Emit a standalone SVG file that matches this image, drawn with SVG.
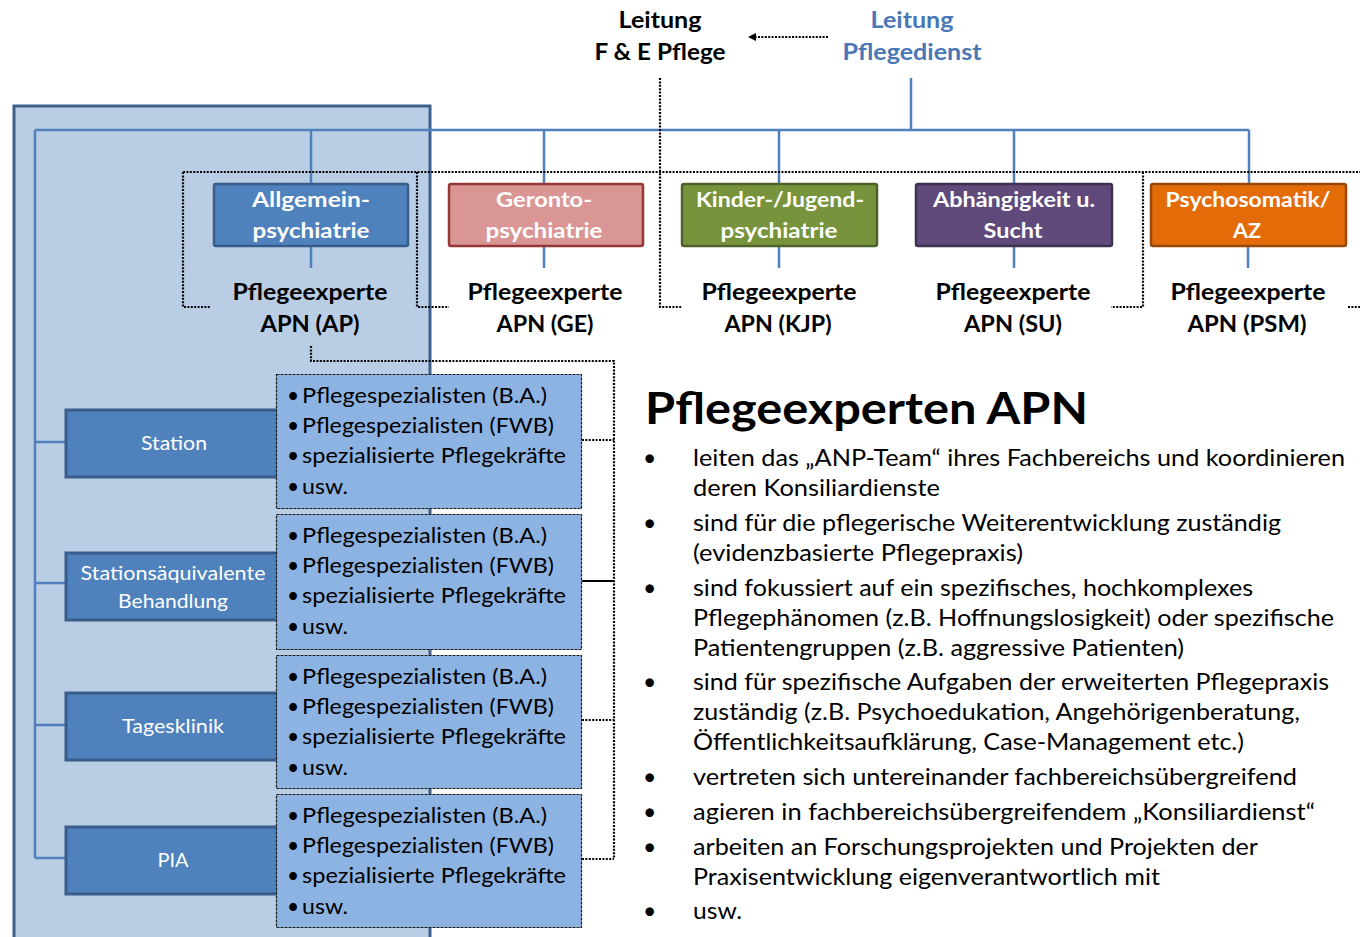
<svg xmlns="http://www.w3.org/2000/svg" width="1360" height="937" viewBox="0 0 1360 937">
<defs>
<style>
.t{font-family:Lato,'Liberation Sans',sans-serif;}
.b{font-weight:700;}
.w{fill:#ffffff;}
.k{fill:#000000;}
.c{text-anchor:middle;}
.bl{stroke:#4f81bd;stroke-width:2.5;fill:none;}
.dt{stroke:#000;stroke-width:2.2;stroke-dasharray:2 1.4;fill:none;}
.cat{fill:#4f81bd;stroke:#385d8a;stroke-width:3;}
.lst{fill:#8db3e2;stroke:#1a1a1a;stroke-width:1.2;stroke-dasharray:3 1;}
.f20{font-size:20px;}
.f21{font-size:21px;}
.f22{font-size:22px;}
.f23{font-size:23px;}
</style>
<marker id="arr" markerWidth="8" markerHeight="8" refX="0" refY="4" orient="auto" markerUnits="userSpaceOnUse">
<path d="M0,0 L8,4 L0,8 z" fill="#000"/>
</marker>
</defs>
<rect width="1360" height="937" fill="#ffffff"/>

<g id="panel">
<rect x="14" y="106" width="416" height="840" fill="#b9cde5" stroke="#3d5f8c" stroke-width="3"/>
</g>

<g id="connectors">
<path class="bl" d="M911,78 V130 M35,130 H1249 M311,130 V183 M544,130 V183 M779,130 V183 M1014,130 V183 M1249,130 V183"/>
<path class="bl" d="M311,247 V268 M544,247 V268 M779,247 V268 M1014,247 V268 M1248,247 V268"/>
<path class="bl" d="M35,130 V858 M35,442 H66 M35,583 H66 M35,725 H66 M35,858 H66"/>
<path class="dt" d="M183,172 H1360 M183,172 V307 H211 M417,172 V307 H449 M660,78 V307 H682 M1143,172 V307 H1111 M1348,307 H1360"/>
<path class="dt" d="M311,346 V361 H614 V859 M582,440 H614 M582,720 H614 M582,859 H614"/>
<path d="M582,581 H614" stroke="#000" stroke-width="2" fill="none"/>
<path class="dt" d="M828,37 H756" marker-end="url(#arr)"/>
</g>

<g id="leitung-fe">
<text class="t b k c f22" x="660" y="28" textLength="83" lengthAdjust="spacingAndGlyphs">Leitung</text>
<text class="t b k c f22" x="660" y="60" textLength="131" lengthAdjust="spacingAndGlyphs">F &amp; E Pflege</text>
</g>
<g id="leitung-pd">
<text class="t b c f22" fill="#4a78b4" x="912" y="28" textLength="83" lengthAdjust="spacingAndGlyphs">Leitung</text>
<text class="t b c f22" fill="#4a78b4" x="912" y="60" textLength="139" lengthAdjust="spacingAndGlyphs">Pflegedienst</text>
</g>

<g id="box-ap">
<rect x="214" y="184" width="194" height="62" rx="2" fill="#4f81bd" stroke="#385d8a" stroke-width="2.5"/>
<text class="t b w c f21" x="311" y="207" textLength="118" lengthAdjust="spacingAndGlyphs">Allgemein-</text>
<text class="t b w c f21" x="311" y="238" textLength="117" lengthAdjust="spacingAndGlyphs">psychiatrie</text>
</g>
<g id="box-ge">
<rect x="449" y="184" width="194" height="62" rx="2" fill="#d99694" stroke="#953735" stroke-width="2.5"/>
<text class="t b w c f21" x="544" y="207" textLength="96" lengthAdjust="spacingAndGlyphs">Geronto-</text>
<text class="t b w c f21" x="544" y="238" textLength="117" lengthAdjust="spacingAndGlyphs">psychiatrie</text>
</g>
<g id="box-kjp">
<rect x="682" y="184" width="195" height="62" rx="2" fill="#77933c" stroke="#4f6228" stroke-width="2.5"/>
<text class="t b w c f21" x="780" y="207" textLength="168" lengthAdjust="spacingAndGlyphs">Kinder-/Jugend-</text>
<text class="t b w c f21" x="779" y="238" textLength="117" lengthAdjust="spacingAndGlyphs">psychiatrie</text>
</g>
<g id="box-su">
<rect x="916" y="184" width="196" height="62" rx="2" fill="#604a7b" stroke="#3f3151" stroke-width="2.5"/>
<text class="t b w c f21" x="1014" y="207" textLength="162" lengthAdjust="spacingAndGlyphs">Abhängigkeit u.</text>
<text class="t b w c f21" x="1013" y="238" textLength="59" lengthAdjust="spacingAndGlyphs">Sucht</text>
</g>
<g id="box-psm">
<rect x="1151" y="184" width="195" height="62" rx="2" fill="#e36c09" stroke="#984807" stroke-width="2.5"/>
<text class="t b w c f21" x="1248" y="207" textLength="165" lengthAdjust="spacingAndGlyphs">Psychosomatik/</text>
<text class="t b w c f21" x="1247" y="238" textLength="28" lengthAdjust="spacingAndGlyphs">AZ</text>
</g>

<g id="apn-ap">
<text class="t b k c f22" x="310" y="300" textLength="155" lengthAdjust="spacingAndGlyphs">Pflegeexperte</text>
<text class="t b k c f22" x="310" y="332" textLength="99" lengthAdjust="spacingAndGlyphs">APN (AP)</text>
</g>
<g id="apn-ge">
<text class="t b k c f22" x="545" y="300" textLength="155" lengthAdjust="spacingAndGlyphs">Pflegeexperte</text>
<text class="t b k c f22" x="545" y="332" textLength="97" lengthAdjust="spacingAndGlyphs">APN (GE)</text>
</g>
<g id="apn-kjp">
<text class="t b k c f22" x="779" y="300" textLength="155" lengthAdjust="spacingAndGlyphs">Pflegeexperte</text>
<text class="t b k c f22" x="778" y="332" textLength="107" lengthAdjust="spacingAndGlyphs">APN (KJP)</text>
</g>
<g id="apn-su">
<text class="t b k c f22" x="1013" y="300" textLength="155" lengthAdjust="spacingAndGlyphs">Pflegeexperte</text>
<text class="t b k c f22" x="1013" y="332" textLength="98" lengthAdjust="spacingAndGlyphs">APN (SU)</text>
</g>
<g id="apn-psm">
<text class="t b k c f22" x="1248" y="300" textLength="155" lengthAdjust="spacingAndGlyphs">Pflegeexperte</text>
<text class="t b k c f22" x="1247" y="332" textLength="119" lengthAdjust="spacingAndGlyphs">APN (PSM)</text>
</g>

<g id="cat-station">
<rect class="cat" x="66" y="410" width="240" height="67"/>
<text class="t w c f20" x="174" y="450" textLength="66" lengthAdjust="spacingAndGlyphs">Station</text>
</g>
<g id="cat-stationsaequivalent">
<rect class="cat" x="66" y="553" width="240" height="67"/>
<text class="t w c f20" x="173" y="580" textLength="185" lengthAdjust="spacingAndGlyphs">Stationsäquivalente</text>
<text class="t w c f20" x="173" y="608" textLength="110" lengthAdjust="spacingAndGlyphs">Behandlung</text>
</g>
<g id="cat-tagesklinik">
<rect class="cat" x="66" y="693" width="240" height="67"/>
<text class="t w c f20" x="173" y="733" textLength="102" lengthAdjust="spacingAndGlyphs">Tagesklinik</text>
</g>
<g id="cat-pia">
<rect class="cat" x="66" y="827" width="240" height="67"/>
<text class="t w c f20" x="173" y="867" textLength="31" lengthAdjust="spacingAndGlyphs">PIA</text>
</g>

<g id="list-1">
<rect class="lst" x="276.5" y="374.5" width="305" height="134"/>
<text class="t k f21" x="287" y="403">•</text><text class="t k f21" x="302" y="403" textLength="245" lengthAdjust="spacingAndGlyphs">Pflegespezialisten (B.A.)</text>
<text class="t k f21" x="287" y="433">•</text><text class="t k f21" x="302" y="433" textLength="252" lengthAdjust="spacingAndGlyphs">Pflegespezialisten (FWB)</text>
<text class="t k f21" x="287" y="463">•</text><text class="t k f21" x="302" y="463" textLength="264" lengthAdjust="spacingAndGlyphs">spezialisierte Pflegekräfte</text>
<text class="t k f21" x="287" y="494">•</text><text class="t k f21" x="302" y="494" textLength="46" lengthAdjust="spacingAndGlyphs">usw.</text>
</g>
<g id="list-2">
<rect class="lst" x="276.5" y="514.5" width="305" height="135"/>
<text class="t k f21" x="287" y="543">•</text><text class="t k f21" x="302" y="543" textLength="245" lengthAdjust="spacingAndGlyphs">Pflegespezialisten (B.A.)</text>
<text class="t k f21" x="287" y="573">•</text><text class="t k f21" x="302" y="573" textLength="252" lengthAdjust="spacingAndGlyphs">Pflegespezialisten (FWB)</text>
<text class="t k f21" x="287" y="603">•</text><text class="t k f21" x="302" y="603" textLength="264" lengthAdjust="spacingAndGlyphs">spezialisierte Pflegekräfte</text>
<text class="t k f21" x="287" y="634">•</text><text class="t k f21" x="302" y="634" textLength="46" lengthAdjust="spacingAndGlyphs">usw.</text>
</g>
<g id="list-3">
<rect class="lst" x="276.5" y="655.5" width="305" height="133"/>
<text class="t k f21" x="287" y="684">•</text><text class="t k f21" x="302" y="684" textLength="245" lengthAdjust="spacingAndGlyphs">Pflegespezialisten (B.A.)</text>
<text class="t k f21" x="287" y="714">•</text><text class="t k f21" x="302" y="714" textLength="252" lengthAdjust="spacingAndGlyphs">Pflegespezialisten (FWB)</text>
<text class="t k f21" x="287" y="744">•</text><text class="t k f21" x="302" y="744" textLength="264" lengthAdjust="spacingAndGlyphs">spezialisierte Pflegekräfte</text>
<text class="t k f21" x="287" y="775">•</text><text class="t k f21" x="302" y="775" textLength="46" lengthAdjust="spacingAndGlyphs">usw.</text>
</g>
<g id="list-4">
<rect class="lst" x="276.5" y="794.5" width="305" height="133"/>
<text class="t k f21" x="287" y="823">•</text><text class="t k f21" x="302" y="823" textLength="245" lengthAdjust="spacingAndGlyphs">Pflegespezialisten (B.A.)</text>
<text class="t k f21" x="287" y="853">•</text><text class="t k f21" x="302" y="853" textLength="252" lengthAdjust="spacingAndGlyphs">Pflegespezialisten (FWB)</text>
<text class="t k f21" x="287" y="883">•</text><text class="t k f21" x="302" y="883" textLength="264" lengthAdjust="spacingAndGlyphs">spezialisierte Pflegekräfte</text>
<text class="t k f21" x="287" y="914">•</text><text class="t k f21" x="302" y="914" textLength="46" lengthAdjust="spacingAndGlyphs">usw.</text>
</g>

<g id="description">
<text class="t b k" font-size="44" x="645" y="424" textLength="443" lengthAdjust="spacingAndGlyphs">Pflegeexperten APN</text>
<g class="t k f23">
<text x="643" y="466">•</text>
<text x="693" y="466" textLength="652" lengthAdjust="spacingAndGlyphs">leiten das „ANP-Team“ ihres Fachbereichs und koordinieren</text>
<text x="693" y="496" textLength="247" lengthAdjust="spacingAndGlyphs">deren Konsiliardienste</text>
<text x="643" y="531">•</text>
<text x="693" y="531" textLength="588" lengthAdjust="spacingAndGlyphs">sind für die pflegerische Weiterentwicklung zuständig</text>
<text x="693" y="561" textLength="330" lengthAdjust="spacingAndGlyphs">(evidenzbasierte Pflegepraxis)</text>
<text x="643" y="596">•</text>
<text x="693" y="596" textLength="560" lengthAdjust="spacingAndGlyphs">sind fokussiert auf ein spezifisches, hochkomplexes</text>
<text x="693" y="626" textLength="641" lengthAdjust="spacingAndGlyphs">Pflegephänomen (z.B. Hoffnungslosigkeit) oder spezifische</text>
<text x="693" y="656" textLength="491" lengthAdjust="spacingAndGlyphs">Patientengruppen (z.B. aggressive Patienten)</text>
<text x="643" y="690">•</text>
<text x="693" y="690" textLength="636" lengthAdjust="spacingAndGlyphs">sind für spezifische Aufgaben der erweiterten Pflegepraxis</text>
<text x="693" y="720" textLength="607" lengthAdjust="spacingAndGlyphs">zuständig (z.B. Psychoedukation, Angehörigenberatung,</text>
<text x="693" y="750" textLength="551" lengthAdjust="spacingAndGlyphs">Öffentlichkeitsaufklärung, Case-Management etc.)</text>
<text x="643" y="785">•</text>
<text x="693" y="785" textLength="604" lengthAdjust="spacingAndGlyphs">vertreten sich untereinander fachbereichsübergreifend</text>
<text x="643" y="820">•</text>
<text x="693" y="820" textLength="622" lengthAdjust="spacingAndGlyphs">agieren in fachbereichsübergreifendem „Konsiliardienst“</text>
<text x="643" y="855">•</text>
<text x="693" y="855" textLength="565" lengthAdjust="spacingAndGlyphs">arbeiten an Forschungsprojekten und Projekten der</text>
<text x="693" y="885" textLength="467" lengthAdjust="spacingAndGlyphs">Praxisentwicklung eigenverantwortlich mit</text>
<text x="643" y="919">•</text>
<text x="693" y="919" textLength="49" lengthAdjust="spacingAndGlyphs">usw.</text>
</g>
</g>
</svg>
